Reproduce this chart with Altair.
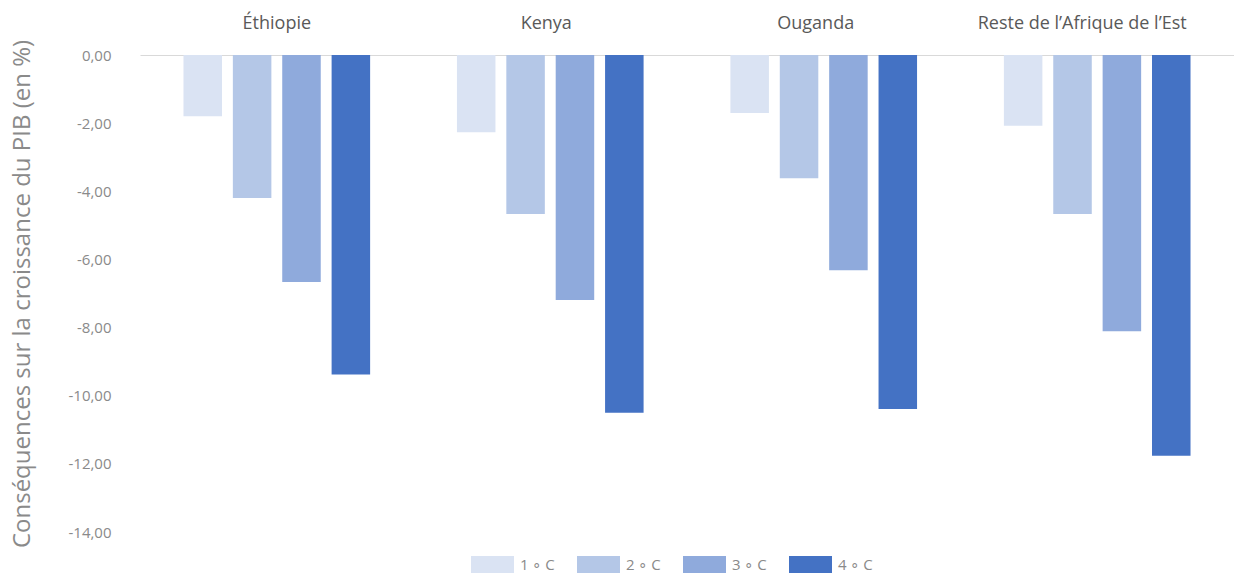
import altair as alt
import pandas as pd

countries = ["Éthiopie", "Kenya", "Ouganda", "Reste de l’Afrique de l’Est"]
scenarios = ["1 ∘ C", "2 ∘ C", "3 ∘ C", "4 ∘ C"]
colors = ["#DAE3F3", "#B4C7E7", "#8FAADC", "#4472C4"]

v_1c = [-1.80, -2.27, -1.70, -2.08]
v_2c = [-4.20, -4.67, -3.62, -4.67]
v_3c = [-6.66, -7.19, -6.32, -8.11]
v_4c = [-9.38, -10.50, -10.39, -11.76]

series = [v_1c, v_2c, v_3c, v_4c]
rows = []
for s, vals in zip(scenarios, series):
    for c, v in zip(countries, vals):
        rows.append({"pays": c, "scen": s, "val": v})
df = pd.DataFrame(rows)

FONT = "Open Sans"
label_expr = ("datum.value < 0 ? '-' + replace(format(-datum.value, '.2f'), '.', ',') "
              ": replace(format(datum.value, '.2f'), '.', ',')")

label_offset = {
    "condition": [
        {"test": "datum.value == 'Kenya'", "value": -4},
        {"test": "datum.value == 'Ouganda'", "value": -8},
        {"test": "indexof(datum.value, 'Reste') == 0", "value": -15},
    ],
    "value": 0,
}

chart = alt.Chart(df).mark_bar().encode(
    x=alt.X("pays:N", sort=countries,
            scale=alt.Scale(paddingInner=0.3175, paddingOuter=0.159),
            axis=alt.Axis(orient="top", title=None, ticks=False, labelAngle=0,
                          labelPadding=23, labelFontSize=18, labelColor="#595959",
                          labelFont=FONT, labelLimit=500, labelOffset=label_offset,
                          domainColor="#d9d9d9", domainWidth=1)),
    xOffset=alt.XOffset("scen:N", sort=scenarios,
                        scale=alt.Scale(paddingInner=0.22, paddingOuter=0)),
    y=alt.Y("val:Q", scale=alt.Scale(domain=[-14, 0], nice=False),
            axis=alt.Axis(values=[0, -2, -4, -6, -8, -10, -12, -14], grid=False,
                          domain=False, ticks=False, labelExpr=label_expr,
                          labelPadding=29, labelFontSize=15, labelColor="#8a8a8a",
                          labelFont=FONT,
                          title="Conséquences sur la croissance du PIB (en %)",
                          titleFont=FONT, titleFontSize=24, titleFontWeight="normal",
                          titleColor="#8a8a8a", titleX=-118, titleY=238.5,
                          titleAngle=-90, titleAlign="center", titleBaseline="middle")),
    color=alt.Color("scen:N", sort=scenarios,
                    scale=alt.Scale(domain=scenarios, range=colors),
                    legend=alt.Legend(title=None, orient="none", direction="horizontal",
                                      legendX=331, legendY=488,
                                      symbolType="M-1,-0.395L1,-0.395L1,0.395L-1,0.395Z",
                                      symbolSize=1849, symbolStrokeWidth=0,
                                      labelFontSize=15, labelColor="#8a8a8a",
                                      labelFont=FONT, labelOffset=6, columnPadding=22)),
).properties(
    width=1094, height=477,
    autosize=alt.AutoSizeParams(type="none"),
    padding={"left": 140, "top": 55, "right": 0, "bottom": 44},
).configure(background="white").configure_view(stroke="transparent", strokeWidth=0)

chart.save("out.html", embed_options={"renderer": "svg", "actions": False})
